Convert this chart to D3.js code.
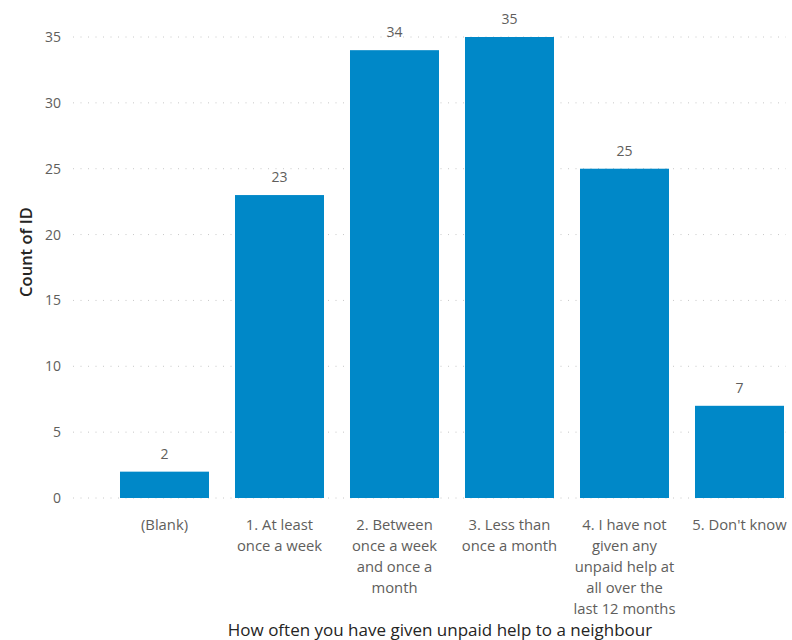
<!DOCTYPE html>
<html>
<head>
<meta charset="utf-8">
<script src="https://cdn.jsdelivr.net/npm/d3@7"></script>
<style>
  html, body { margin: 0; padding: 0; background: #fff; }
  svg { display: block; }
</style>
</head>
<body>
<svg id="chart" width="792" height="640"></svg>
<script>
const categories = [
  "(Blank)",
  "1. At least\nonce a week",
  "2. Between\nonce a week\nand once a\nmonth",
  "3. Less than\nonce a month",
  "4. I have not\ngiven any\nunpaid help at\nall over the\nlast 12 months",
  "5. Don't know"
];
const counts = [2, 23, 34, 35, 25, 7];
const yTicks = [0, 5, 10, 15, 20, 25, 30, 35];
const yTitle = "Count of ID";
const xTitle = "How often you have given unpaid help to a neighbour";

const font = "'Open Sans', 'Noto Sans', sans-serif";
const svg = d3.select("#chart");

const x = d3.scaleBand()
  .domain(categories)
  .range([107, 797])
  .paddingInner(0.226)
  .paddingOuter(0.113);

const y = d3.scaleLinear()
  .domain([0, 35])
  .range([498, 37]);

// gridlines
svg.append("g")
  .selectAll("line")
  .data(yTicks)
  .join("line")
  .attr("x1", 73)
  .attr("x2", 786)
  .attr("y1", d => y(d))
  .attr("y2", d => y(d))
  .attr("stroke", "#c8c8c8")
  .attr("stroke-width", 1)
  .attr("stroke-dasharray", "1,6.5");

// y axis labels
const yAxis = d3.axisLeft(y).tickValues(yTicks).tickSize(0).tickPadding(0);
const yg = svg.append("g").attr("transform", "translate(61,0)").call(yAxis);
yg.select(".domain").remove();
yg.selectAll("text")
  .attr("font-family", font)
  .attr("font-size", 14)
  .attr("fill", "#605e5c");

// y title
svg.append("text")
  .attr("transform", `translate(32,252) rotate(-90)`)
  .attr("text-anchor", "middle")
  .attr("font-family", font)
  .attr("font-size", 16.5)
  .attr("font-weight", 600)
  .attr("fill", "#252423")
  .text(yTitle);

// bars
svg.append("g")
  .selectAll("rect")
  .data(counts)
  .join("rect")
  .attr("x", (d, i) => x(categories[i]))
  .attr("width", x.bandwidth())
  .attr("y", d => y(d))
  .attr("height", d => y(0) - y(d))
  .attr("fill", "#0088c8");

// data labels
svg.append("g")
  .selectAll("text")
  .data(counts)
  .join("text")
  .attr("x", (d, i) => x(categories[i]) + x.bandwidth() / 2)
  .attr("y", d => y(d) - 13)
  .attr("text-anchor", "middle")
  .attr("font-family", font)
  .attr("font-size", 14)
  .attr("fill", "#605e5c")
  .text(d => d);

// x tick labels (wrapped)
const xg = svg.append("g");
categories.forEach(c => {
  const t = xg.append("text")
    .attr("x", x(c) + x.bandwidth() / 2)
    .attr("y", 530)
    .attr("text-anchor", "middle")
    .attr("font-family", font)
    .attr("font-size", 14.8)
    .attr("fill", "#605e5c");
  c.split("\n").forEach((line, j) => {
    t.append("tspan")
      .attr("x", x(c) + x.bandwidth() / 2)
      .attr("dy", j === 0 ? 0 : 21)
      .text(line);
  });
});

// x title
svg.append("text")
  .attr("x", 440)
  .attr("y", 636)
  .attr("text-anchor", "middle")
  .attr("font-family", font)
  .attr("font-size", 17)
  .attr("fill", "#252423")
  .text(xTitle);
</script>
</body>
</html>
